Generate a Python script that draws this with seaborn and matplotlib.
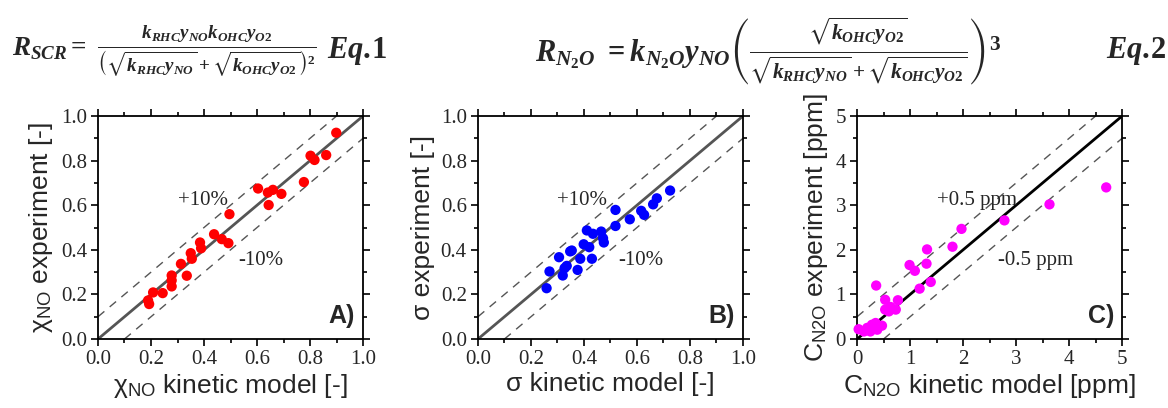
import numpy as np
import pandas as pd
import seaborn as sns
import matplotlib.pyplot as plt
from matplotlib.ticker import MultipleLocator

# Panel A: NO conversion
no_model = [0.899, 0.802, 0.817, 0.861, 0.777, 0.604, 0.641, 0.660, 0.692,
            0.644, 0.496, 0.438, 0.467, 0.492, 0.385, 0.389, 0.350, 0.354,
            0.313, 0.335, 0.278, 0.278, 0.278, 0.208, 0.244, 0.189, 0.193]
no_exp = [0.925, 0.822, 0.803, 0.825, 0.704, 0.675, 0.657, 0.669, 0.651,
          0.601, 0.560, 0.470, 0.448, 0.430, 0.433, 0.407, 0.385, 0.360,
          0.337, 0.284, 0.285, 0.263, 0.236, 0.209, 0.206, 0.173, 0.157]

# Panel B: sigma
sig_model = [0.725, 0.675, 0.661, 0.616, 0.627, 0.573, 0.519, 0.519, 0.411,
             0.434, 0.465, 0.472, 0.475, 0.399, 0.420, 0.354, 0.348, 0.386,
             0.430, 0.306, 0.335, 0.320, 0.270, 0.376, 0.259, 0.327]
sig_exp = [0.666, 0.631, 0.604, 0.575, 0.557, 0.537, 0.579, 0.507, 0.487,
           0.472, 0.482, 0.452, 0.433, 0.425, 0.412, 0.397, 0.393, 0.360,
           0.360, 0.367, 0.328, 0.285, 0.303, 0.310, 0.228, 0.318]

# Panel C: N2O concentration (ppm)
n2o_model = [4.70, 3.63, 2.78, 1.97, 1.80, 1.32, 0.99, 1.31, 1.09, 1.39,
             1.18, 0.36, 0.53, 0.77, 0.53, 0.63, 0.73, 0.47, 0.28, 0.19,
             0.03, 0.13, 0.25, 0.38, 0.35, 0.60]
n2o_exp = [3.40, 3.02, 2.66, 2.47, 2.07, 2.01, 1.66, 1.69, 1.53, 1.28,
           1.13, 1.20, 0.88, 0.87, 0.66, 0.72, 0.66, 0.30, 0.32, 0.25,
           0.22, 0.17, 0.17, 0.21, 0.36, 0.62]

sns.set_style("ticks")
plt.rcParams["font.family"] = ["Liberation Sans", "DejaVu Sans"]
plt.rcParams["mathtext.fontset"] = "custom"
plt.rcParams["mathtext.it"] = "Liberation Serif:bold:italic"
plt.rcParams["mathtext.rm"] = "Liberation Serif:bold"
plt.rcParams["mathtext.bf"] = "Liberation Serif:bold"
plt.rcParams["mathtext.fallback"] = "stix"

fig = plt.figure(figsize=(11.68, 4.08), dpi=100)
ax_a = fig.add_axes([0.0839, 0.169, 0.2269, 0.5466])
ax_b = fig.add_axes([0.4092, 0.169, 0.2269, 0.5466])
ax_c = fig.add_axes([0.7338, 0.169, 0.2269, 0.5466])

panels = [
    (ax_a, no_model, no_exp, "#ff0000", 1.0, 0.1, "#555555",
     ["+10%", "-10%"], "A)",
     "χ$_\\mathregular{NO}$ kinetic model [-]",
     "χ$_\\mathregular{NO}$ experiment [-]"),
    (ax_b, sig_model, sig_exp, "#0000ff", 1.0, 0.1, "#555555",
     ["+10%", "-10%"], "B)",
     "σ kinetic model [-]", "σ experiment [-]"),
    (ax_c, n2o_model, n2o_exp, "#ff00ff", 5.0, 0.5, "black",
     ["+0.5 ppm", "-0.5 ppm"], "C)",
     "C$_\\mathregular{N2O}$ kinetic model [ppm]",
     "C$_\\mathregular{N2O}$ experiment [ppm]"),
]

for ax, xs, ys, color, top, band, lcol, notes, tag, xlab, ylab in panels:
    df = pd.DataFrame({"model": xs, "exp": ys})
    # parity line and +/- band
    ax.axline((0, 0), slope=1, color=lcol, lw=2, zorder=1)
    ax.axline((0, band), slope=1, color="#555555", lw=1, ls=(0, (6, 5)), zorder=1)
    ax.axline((0, -band), slope=1, color="#555555", lw=1, ls=(0, (6, 5)), zorder=1)
    sns.scatterplot(data=df, x="model", y="exp", color=color, s=55,
                    edgecolor="none", ax=ax, zorder=3, clip_on=False)
    ax.set_xlim(0, top)
    ax.set_ylim(0, top)
    step = top / 5
    ax.xaxis.set_major_locator(MultipleLocator(step))
    ax.yaxis.set_major_locator(MultipleLocator(step))
    ax.xaxis.set_minor_locator(MultipleLocator(step / 2))
    ax.yaxis.set_minor_locator(MultipleLocator(step / 2))
    if top == 1.0:
        ax.xaxis.set_major_formatter("{x:.1f}")
        ax.yaxis.set_major_formatter("{x:.1f}")
    else:
        ax.xaxis.set_major_formatter("{x:.0f}")
        ax.yaxis.set_major_formatter("{x:.0f}")
    ax.tick_params(which="both", direction="out", top=True, right=True,
                   labelfontfamily="Liberation Serif", labelsize=15,
                   color="black", width=1.2, pad=3)
    ax.tick_params(which="major", length=5)
    ax.tick_params(which="minor", length=3)
    for sp in ax.spines.values():
        sp.set_visible(True)
        sp.set_linewidth(1.3)
        sp.set_color("black")
    ax.set_xlabel(xlab, fontsize=19, labelpad=2)
    ax.set_ylabel(ylab, fontsize=19, labelpad=4)
    f = top
    ax.text(0.30 * f, 0.62 * f, notes[0], family="Liberation Serif",
            fontsize=15, va="center")
    ax.text(0.53 * f, 0.35 * f, notes[1], family="Liberation Serif",
            fontsize=15, va="center")
    ax.text(0.97, 0.05, tag, transform=ax.transAxes, ha="right", va="bottom",
            fontsize=18, fontweight="bold")

# rate equations
eq1 = (r"$R_{SCR}=\ \frac{k_{RHC}y_{NO}k_{OHC}y_{O2}}"
       r"{\left(\sqrt{k_{RHC}y_{NO}}+\sqrt{k_{OHC}y_{O2}}\right)^2}$")
eq2 = (r"$R_{N_2O}\ =k_{N_2O}y_{NO}\left(\frac{\sqrt{k_{OHC}y_{O2}}}"
       r"{\sqrt{k_{RHC}y_{NO}}+\sqrt{k_{OHC}y_{O2}}}\right)^3$")
fig.text(0.010, 0.875, eq1, fontsize=19.5, va="center", math_fontfamily="custom")
fig.text(0.280, 0.875, r"$Eq.\!1$", fontsize=22, va="center",
         math_fontfamily="custom")
fig.text(0.458, 0.875, eq2, fontsize=22, va="center", math_fontfamily="custom")
fig.text(0.998, 0.875, r"$Eq.\!2$", fontsize=22, va="center", ha="right",
         math_fontfamily="custom")

plt.savefig("out.png", dpi=100)
plt.close()
